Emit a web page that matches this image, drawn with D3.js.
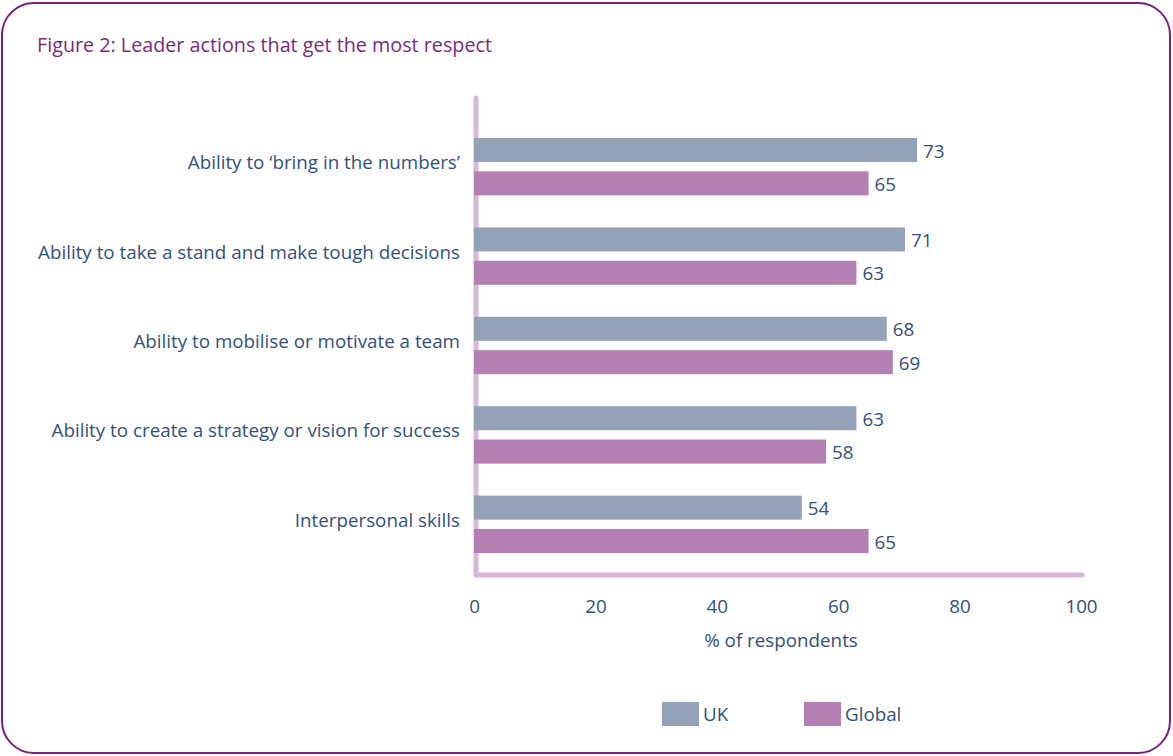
<!DOCTYPE html>
<html>
<head>
<meta charset="utf-8">
<script src="https://cdn.jsdelivr.net/npm/d3@7"></script>
<style>
  html, body { margin: 0; padding: 0; background: #fff; }
  svg { display: block; }
  text { font-family: "Open Sans", "Noto Sans", sans-serif; }
</style>
</head>
<body>
<svg id="chart" width="1173" height="756"></svg>
<script>
// Leader actions that get the most respect (% of respondents)
const categories = [
  "Ability to \u2018bring in the numbers\u2019",
  "Ability to take a stand and make tough decisions",
  "Ability to mobilise or motivate a team",
  "Ability to create a strategy or vision for success",
  "Interpersonal skills"
];
const seriesNames = ["UK", "Global"];
const ukValues = [73, 71, 68, 63, 54];
const globalValues = [65, 63, 69, 58, 65];
const xTicks = [0, 20, 40, 60, 80, 100];

const colors = { UK: "#93a2b7", Global: "#b47fb3" };
const textColor = "#34507a";
const axisColor = "#d8b8d6";
const frameColor = "#7b1f7e";
const fs = 18.8;

const svg = d3.select("#chart");

// rounded outer frame
svg.append("rect")
  .attr("x", 2).attr("y", 3)
  .attr("width", 1168).attr("height", 750)
  .attr("rx", 32).attr("ry", 32)
  .attr("fill", "none")
  .attr("stroke", frameColor)
  .attr("stroke-width", 2);

svg.append("text")
  .attr("x", 37).attr("y", 52)
  .attr("fill", "#7a2a7e")
  .attr("font-size", 19.5)
  .attr("textLength", 455)
  .attr("lengthAdjust", "spacingAndGlyphs")
  .text("Figure 2: Leader actions that get the most respect");

const x = d3.scaleLinear().domain([0, 100]).range([474, 1081]);
const y = d3.scaleBand().domain(categories).range([127, 574]).paddingInner(0).paddingOuter(0);
const inner = d3.scaleBand().domain(seriesNames).range([11, y.bandwidth() - 21]).paddingInner(0.28);

const data = categories.map((c, i) => ({ c, UK: ukValues[i], Global: globalValues[i] }));

// axis lines (L-shaped, rounded ends), drawn beneath the bars
svg.append("path")
  .attr("d", `M${x(0) + 2},98 L${x(0) + 2},575 L${x(100) + 1},575`)
  .attr("fill", "none")
  .attr("stroke", axisColor)
  .attr("stroke-width", 5)
  .attr("stroke-linecap", "round")
  .attr("stroke-linejoin", "round");

// bars
const groups = svg.append("g").selectAll("g").data(data).join("g")
  .attr("transform", d => `translate(0,${y(d.c)})`);

groups.selectAll("rect").data(d => seriesNames.map(k => ({ k, v: d[k] }))).join("rect")
  .attr("x", x(0))
  .attr("y", d => inner(d.k))
  .attr("width", d => x(d.v) - x(0))
  .attr("height", inner.bandwidth())
  .attr("fill", d => colors[d.k]);

groups.selectAll("text.val").data(d => seriesNames.map(k => ({ k, v: d[k] }))).join("text")
  .attr("class", "val")
  .attr("x", d => x(d.v) + 6)
  .attr("y", d => inner(d.k) + inner.bandwidth() / 2 + 1)
  .attr("dy", "0.35em")
  .attr("fill", textColor)
  .attr("font-size", fs)
  .text(d => d.v);

// category labels
svg.append("g").selectAll("text").data(categories).join("text")
  .attr("x", 460)
  .attr("y", d => y(d) + 11 + (y.bandwidth() - 32) / 2 - 4)
  .attr("dy", "0.35em")
  .attr("text-anchor", "end")
  .attr("fill", textColor)
  .attr("font-size", fs)
  .text(d => d);

// x axis ticks
const xAxis = d3.axisBottom(x).tickValues(xTicks).tickSize(0).tickPadding(0);
const gx = svg.append("g").attr("transform", "translate(0,600)").call(xAxis);
gx.select(".domain").remove();
gx.selectAll("text")
  .attr("fill", textColor)
  .attr("font-size", fs)
  .attr("font-family", "\"Open Sans\", sans-serif");

svg.append("text")
  .attr("x", 781).attr("y", 647)
  .attr("text-anchor", "middle")
  .attr("fill", textColor)
  .attr("font-size", fs)
  .text("% of respondents");

// legend
const legendPos = [662, 804];
const lg = svg.append("g").selectAll("g").data(seriesNames).join("g")
  .attr("transform", (d, i) => `translate(${legendPos[i]},702)`);
lg.append("rect").attr("width", 37).attr("height", 24).attr("fill", d => colors[d]);
lg.append("text")
  .attr("x", 41).attr("y", 12).attr("dy", "0.35em")
  .attr("fill", textColor)
  .attr("font-size", fs)
  .text(d => d);
</script>
</body>
</html>
